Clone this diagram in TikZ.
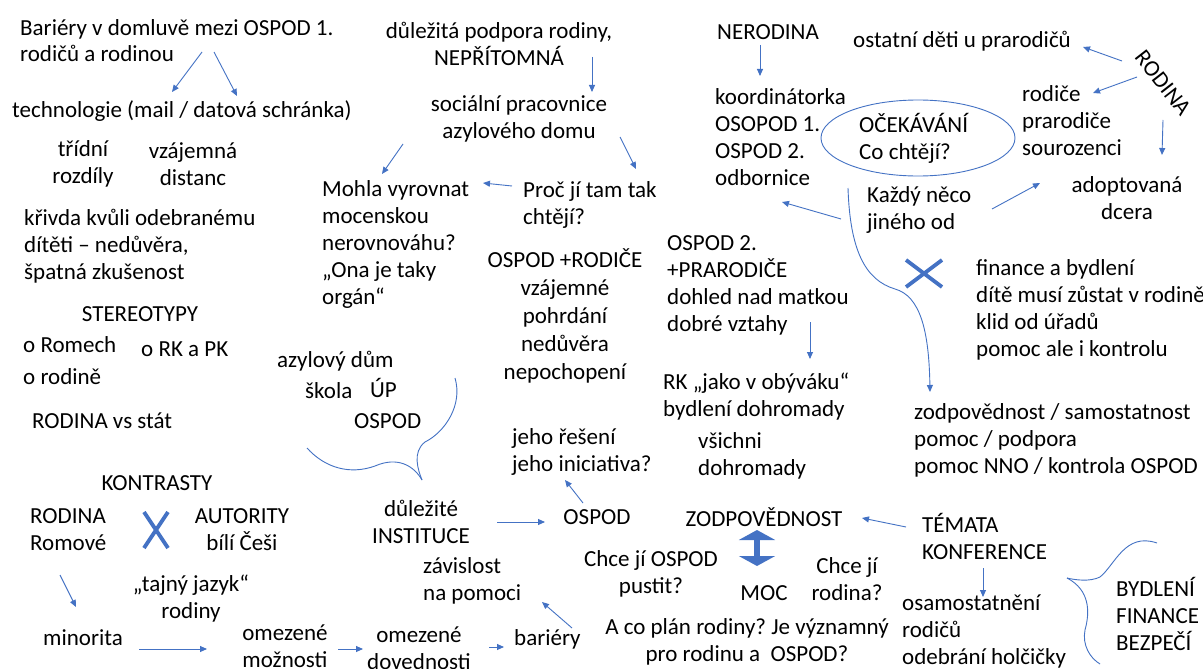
\documentclass[tikz,border=0pt]{standalone}
\usepackage{fontspec}
\setmainfont{Carlito}
\usetikzlibrary{arrows.meta,shapes.geometric}
\definecolor{mapblue}{RGB}{68,114,196}
\newcommand{\mapfont}{\fontsize{23pt}{27pt}\selectfont}
\frenchspacing

\begin{document}
\begin{tikzpicture}[
  x=1pt, y=-1pt,
  every node/.style={font=\mapfont, inner sep=0pt, text=black},
  lnote/.style={anchor=west, align=left},
  cnote/.style={anchor=center, align=center},
  arr/.style={draw=mapblue, line width=0.9pt, -{Triangle[length=7pt,width=6pt]}},
  curl/.style={draw=mapblue, line width=0.9pt},
  crossbar/.style={draw=mapblue, line width=3.8pt},
  dblarr/.style={draw=mapblue, line width=6pt,
                 {Triangle[length=10pt,width=36pt]}-{Triangle[length=10pt,width=36pt]}}
]

  \useasboundingbox[fill=white] (0,0) rectangle (1203,669);

  % --- Left column ---
  \node[lnote, font=\fontsize{23pt}{26pt}\selectfont] (barr) at (20,41)
    {Bariéry v domluvě mezi OSPOD 1.\\rodičů a rodinou};
  \node[lnote] (techn) at (12,111) {technologie (mail / datová schránka)};
  \node[cnote] (trid) at (83,164) {třídní\\rozdíly};
  \node[cnote] (vzaj) at (193,164) {vzájemná\\distanc};
  \node[lnote] (krivda) at (24,246) {křivda kvůli odebranému\\dítěti – nedůvěra,\\špatná zkušenost};
  \node[cnote] (stereo) at (140,314) {STEREOTYPY};
  \node[lnote] (romech) at (23,345) {o Romech};
  \node[lnote] (rkpk) at (141,349) {o RK a PK};
  \node[lnote] (rodine) at (23,377) {o rodině};
  \node[lnote] (vsstat) at (32,421) {RODINA vs stát};

  % --- Contrasts ---
  \node[cnote] (kontr) at (157,483) {KONTRASTY};
  \node[lnote] (romove) at (30,530) {RODINA\\Romové};
  \node[cnote] (autor) at (242,530) {AUTORITY\\bílí Češi};
  \node[cnote] (tajny) at (191,599) {„tajný jazyk“\\rodiny};
  \node[lnote] (minor) at (43,638) {minorita};
  \node[cnote] (mozn) at (285,646) {omezené\\možnosti};
  \node[cnote] (doved) at (419,648) {omezené\\dovednosti};
  \node[lnote] (barier) at (514,639) {bariéry};
  \node[lnote] (zavis) at (423,581) {závislost\\na pomoci};

  % --- Institutions ---
  \node[lnote] (azyl) at (277,361) {azylový dům};
  \node[lnote] (skola) at (305,391) {škola};
  \node[lnote] (up) at (370,388) {ÚP};
  \node[lnote] (ospodA) at (354,421) {OSPOD};
  \node[cnote] (instit) at (421,522) {důležité\\INSTITUCE};
  \node[cnote] (ospodB) at (597,517) {OSPOD};
  \node[lnote] (jeho) at (512,452) {jeho řešení\\jeho iniciativa?};

  % --- Middle ---
  \node[cnote] (podpora) at (499,44) {důležitá podpora rodiny,\\NEPŘÍTOMNÁ};
  \node[cnote] (socpr) at (519,119) {sociální pracovnice\\azylového domu};
  \node[lnote] (mohla) at (322,244) {Mohla vyrovnat\\mocenskou\\nerovnováhu?\\„Ona je taky\\orgán“};
  \node[lnote] (proc) at (523,205) {Proč jí tam tak\\chtějí?};
  \node[cnote, font=\fontsize{23pt}{28.2pt}\selectfont] (ospodrod) at (565,316)
    {OSPOD +RODIČE\\vzájemné\\pohrdání\\nedůvěra\\nepochopení};
  \node[lnote] (ospod2) at (667,285) {OSPOD 2.\\+PRARODIČE\\dohled nad matkou\\dobré vztahy};
  \node[lnote] (rk) at (663,397) {RK „jako v obýváku“\\bydlení dohromady};
  \node[lnote] (vsichni) at (698,456) {všichni\\dohromady};

  % --- Top right ---
  \node[lnote] (nerod) at (717,32) {NERODINA};
  \node[lnote] (koord) at (715,137) {koordinátorka\\OSOPOD 1.\\OSPOD 2.\\odbornice};
  \node[draw=mapblue, line width=0.9pt, ellipse, minimum width=194pt, minimum height=76pt]
    (ocekEl) at (918,138) {};
  \node[lnote] (ocek) at (859,138) {OČEKÁVÁNÍ\\Co chtějí?};
  \node[lnote] (ostatni) at (853,41) {ostatní děti u prarodičů};
  \node[cnote, rotate=-52] (rodinaR) at (1163,83) {RODINA};
  \node[lnote] (rodice) at (1022,121) {rodiče\\prarodiče\\sourozenci};
  \node[cnote] (adopt) at (1127,198) {adoptovaná\\dcera};
  \node[lnote] (kazdy) at (867,210) {Každý něco\\jiného od};
  \node[lnote] (finance) at (976,310) {finance a bydlení\\dítě musí zůstat v rodině\\klid od úřadů\\pomoc ale i kontrolu};
  \node[lnote] (zodpov) at (914,440) {zodpovědnost / samostatnost\\pomoc / podpora\\pomoc NNO / kontrola OSPOD};

  % --- Bottom right ---
  \node[cnote] (zodpB) at (764,517) {ZODPOVĚDNOST};
  \node[cnote] (chceO) at (651,574) {Chce jí OSPOD\\pustit?};
  \node[cnote] (moc) at (764,593) {MOC};
  \node[cnote] (chceR) at (847,579) {Chce jí\\rodina?};
  \node[cnote] (aco) at (747,642) {A co plán rodiny? Je významný\\pro rodinu a~ OSPOD?};
  \node[lnote] (temata) at (922,536) {TÉMATA\\KONFERENCE};
  \node[lnote] (osam) at (902,631) {osamostatnění\\rodičů\\odebrání holčičky};
  \node[lnote] (bydl) at (1116,614) {BYDLENÍ\\FINANCE\\BEZPEČÍ};

  % --- Arrow ends ---
  \coordinate (barrA) at (202,52);   \coordinate (technA) at (172,92);
  \coordinate (barrB) at (214,52);   \coordinate (technB) at (237,96);
  \coordinate (socprL) at (403,144); \coordinate (mohlaT) at (382,174);
  \coordinate (podporaS) at (592,57); \coordinate (socprT) at (592,92);
  \coordinate (socprR) at (620,137); \coordinate (procT) at (636,169);
  \coordinate (procL) at (512,186);  \coordinate (mohlaR) at (483,183);
  \coordinate (nerodS) at (760,45);  \coordinate (koordT) at (760,76);
  \coordinate (rodinaA) at (1122,61); \coordinate (ostatniR) at (1083,47);
  \coordinate (rodinaB) at (1137,77); \coordinate (rodiceR) at (1093,93);
  \coordinate (rodinaC) at (1163,120); \coordinate (adoptT) at (1162,155);
  \coordinate (kazdyL) at (841,219); \coordinate (koordS) at (782,202);
  \coordinate (kazdyR) at (992,209); \coordinate (adoptL) at (1040,183);
  \coordinate (ospod2S) at (810,322); \coordinate (rkT) at (810,359);
  \coordinate (curlS) at (848,188); \coordinate (zodpovT) at (930,392);
  \coordinate (romoveS) at (60,575); \coordinate (minorT) at (76,607);
  \coordinate (minorR) at (139,649); \coordinate (moznL) at (207,649);
  \coordinate (moznR) at (338,649); \coordinate (dovedL) at (363,649);
  \coordinate (dovedR) at (489,647); \coordinate (barierL) at (504,647);
  \coordinate (barierT) at (572,628); \coordinate (zavisR) at (542,602);
  \coordinate (institR) at (497,522); \coordinate (ospodBL) at (545,522);
  \coordinate (ospodBT) at (583,503); \coordinate (jehoS) at (565,480);
  \coordinate (temataL) at (906,527); \coordinate (zodpBR) at (862,518);
  \coordinate (temataS) at (983,568); \coordinate (osamT) at (983,597);
  \coordinate (zodpBS) at (757,530); \coordinate (mocT) at (757,566);

  % --- Connectors ---
  \draw[arr] (barrA) -- (technA);
  \draw[arr] (barrB) -- (technB);
  \draw[arr] (socprL) -- (mohlaT);
  \draw[arr] (podporaS) -- (socprT);
  \draw[arr] (socprR) -- (procT);
  \draw[arr] (procL) -- (mohlaR);
  \draw[arr] (nerodS) -- (koordT);
  \draw[arr] (rodinaA) -- (ostatniR);
  \draw[arr] (rodinaB) -- (rodiceR);
  \draw[arr] (rodinaC) -- (adoptT);
  \draw[arr] (kazdyL) -- (koordS);
  \draw[arr] (kazdyR) -- (adoptL);
  \draw[arr] (ospod2S) -- (rkT);
  \draw[arr] (curlS) .. controls (850,250) and (865,280) .. (895,289)
    .. controls (920,296) and (929,330) .. (zodpovT);
  \draw[arr] (romoveS) -- (minorT);
  \draw[arr] (minorR) -- (moznL);
  \draw[arr] (moznR) -- (dovedL);
  \draw[arr] (dovedR) -- (barierL);
  \draw[arr] (barierT) -- (zavisR);
  \draw[arr] (institR) -- (ospodBL);
  \draw[arr] (ospodBT) -- (jehoS);
  \draw[arr] (temataL) -- (zodpBR);
  \draw[arr] (temataS) -- (osamT);
  \draw[dblarr] (zodpBS) -- (mocT);

  % --- Crosses ---
  \draw[crossbar] (144,512) -- (168,548) (168,512) -- (144,548);
  \draw[crossbar] (906,260) -- (942,287) (942,260) -- (906,287);

  % --- Braces ---
  \draw[curl] (455,378) .. controls (463,405) and (445,432) .. (425,442)
    .. controls (412,452) and (418,470) .. (422,480);
  \draw[curl] (307,448) .. controls (325,468) and (350,475) .. (375,466)
    .. controls (398,456) and (414,466) .. (422,480);
  \draw[curl] (1157,543) .. controls (1125,532) and (1115,565) .. (1100,577)
    .. controls (1090,582) and (1075,580) .. (1067,578);
  \draw[curl] (1067,578) .. controls (1090,590) and (1090,612) .. (1085,630)
    .. controls (1082,645) and (1090,658) .. (1100,664);

\end{tikzpicture}
\end{document}
